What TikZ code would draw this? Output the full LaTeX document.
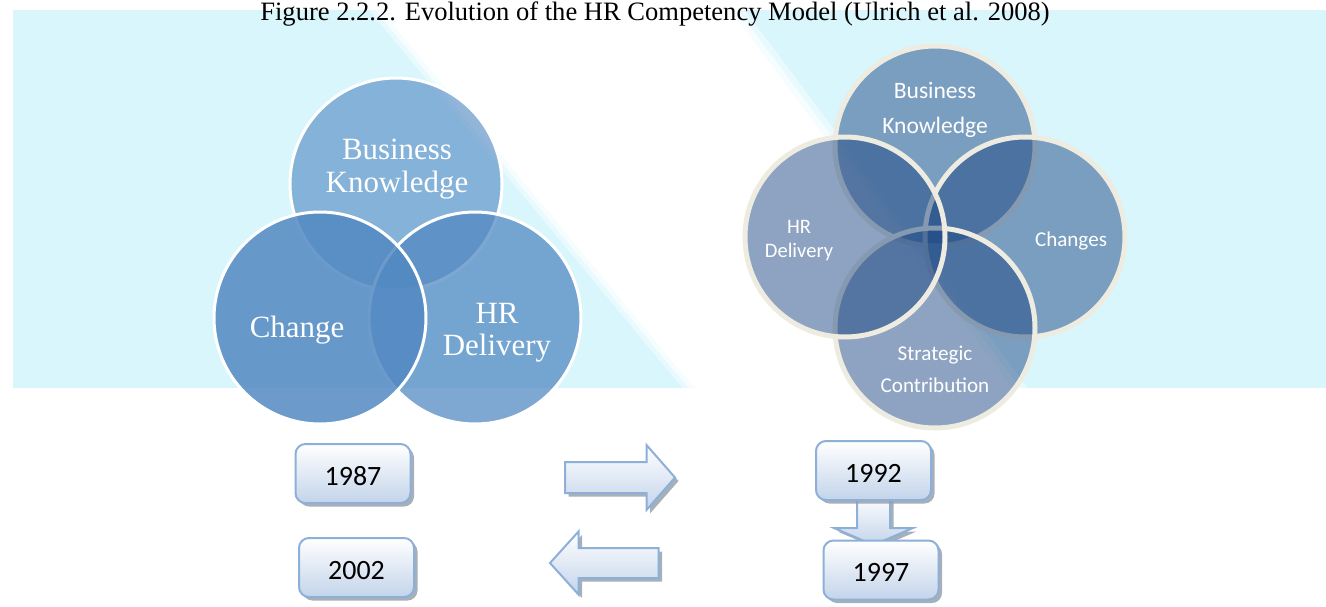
\documentclass[tikz,border=0pt]{standalone}
\usepackage{fontspec}
\setmainfont{Liberation Serif}
\newfontfamily\boxfont{Carlito}
\usetikzlibrary{shadows}
\definecolor{skyback}{HTML}{D9F6FC}
\definecolor{leftblue}{HTML}{5289C2}
\definecolor{rightblue}{HTML}{1D4884}
\definecolor{rimcream}{HTML}{EEEBE0}
\definecolor{boxline}{HTML}{8DB0D9}
\definecolor{boxbottom}{HTML}{C3D4EA}
\definecolor{boxshadow}{HTML}{98A1AC}

\begin{document}
\begin{tikzpicture}
\tikzstyle{oldset} = [circle, minimum size=4.24cm, draw=white, line width=0.06cm, fill=leftblue]
\tikzstyle{newset} = [circle, minimum size=4cm, draw=rimcream, line width=0.1cm, fill=rightblue, fill opacity=0.5]
\tikzstyle{oldlabel} = [text=white, align=center, font=\fontsize{17.6}{18.4}\selectfont]
\tikzstyle{newlabel} = [text=white, align=center, font=\boxfont\fontsize{12}{14}\selectfont]
\tikzstyle{shade} = [draw=boxline, line width=0.04cm, top color=white, bottom color=boxbottom, drop shadow={shadow xshift=0.07cm, shadow yshift=-0.07cm, fill=boxshadow, opacity=0.85}]
\tikzstyle{year} = [shade, rectangle, rounded corners=0.2cm, minimum width=2.3cm, minimum height=1.18cm, font=\boxfont\fontsize{15.9}{19}\selectfont, text height=0.59cm, text depth=0.12cm]

\useasboundingbox (0,0) rectangle (26.52,-12.12);
\fill[skyback] (0.26,-0.2) rectangle (26.52,-7.76);
\fill[skyback!60] (7.38,-0.2) -- (14.9,-0.2) -- (20.55,-7.76) -- (13.65,-7.76) -- cycle;
\fill[skyback!25] (7.5,-0.2) -- (14.75,-0.2) -- (20.4,-7.76) -- (13.77,-7.76) -- cycle;
\fill[white] (7.62,-0.2) -- (14.6,-0.2) -- (20.25,-7.76) -- (13.89,-7.76) -- cycle;

\node[anchor=base, font=\fontsize{15.1}{18}\selectfont] (v0) at (13.1,-0.4) {Figure 2.2.2. Evolution of the HR Competency Model (Ulrich et al. 2008)};

\node[oldset, fill opacity=0.62] (v1) at (7.92,-3.68) {};
\node[oldset, fill opacity=0.745] (v3) at (9.5,-6.36) {};
\node[oldset, fill opacity=0.85] (v2) at (6.4,-6.36) {};
\node[oldlabel] (v4) at (7.94,-3.38) {Business\\Knowledge};
\node[oldlabel] (v5) at (5.94,-6.6) {Change};
\node[oldlabel] (v6) at (9.94,-6.65) {HR\\Delivery};

\node[newset] (v7) at (18.7,-2.92) {};
\node[newset] (v9) at (20.5,-4.74) {};
\node[newset] (v10) at (18.7,-6.56) {};
\node[newset] (v8) at (16.9,-4.74) {};
\node[newlabel, font=\boxfont\fontsize{13.4}{19.9}\selectfont] (v11) at (18.7,-2.19) {Business\\Knowledge};
\node[newlabel, font=\boxfont\fontsize{11.7}{13.7}\selectfont] (v12) at (15.98,-4.81) {HR\\Delivery};
\node[newlabel] (v13) at (21.42,-4.81) {Changes};
\node[newlabel, font=\boxfont\fontsize{12}{18.2}\selectfont] (v14) at (18.7,-7.38) {Strategic\\Contribution};

\draw[shade] (11.3,-9.24) -- (12.93,-9.24) -- (12.93,-8.9) -- (13.5,-9.55) -- (12.93,-10.2) -- (12.93,-9.86) -- (11.3,-9.86) -- cycle;
\draw[shade] (11.0,-11.26) -- (11.57,-10.63) -- (11.57,-10.96) -- (13.17,-10.96) -- (13.17,-11.56) -- (11.57,-11.56) -- (11.57,-11.89) -- cycle;
\draw[shade] (17.14,-9.9) -- (17.8,-9.9) -- (17.8,-10.56) -- (18.26,-10.56) -- (17.47,-10.9) -- (16.68,-10.56) -- (17.14,-10.56) -- cycle;

\node[year] (v15) at (7.06,-9.47) {1987};
\node[year] (v16) at (7.13,-11.35) {2002};
\node[year] (v17) at (17.47,-9.41) {1992};
\node[year] (v18) at (17.62,-11.4) {1997};
\end{tikzpicture}
\end{document}
